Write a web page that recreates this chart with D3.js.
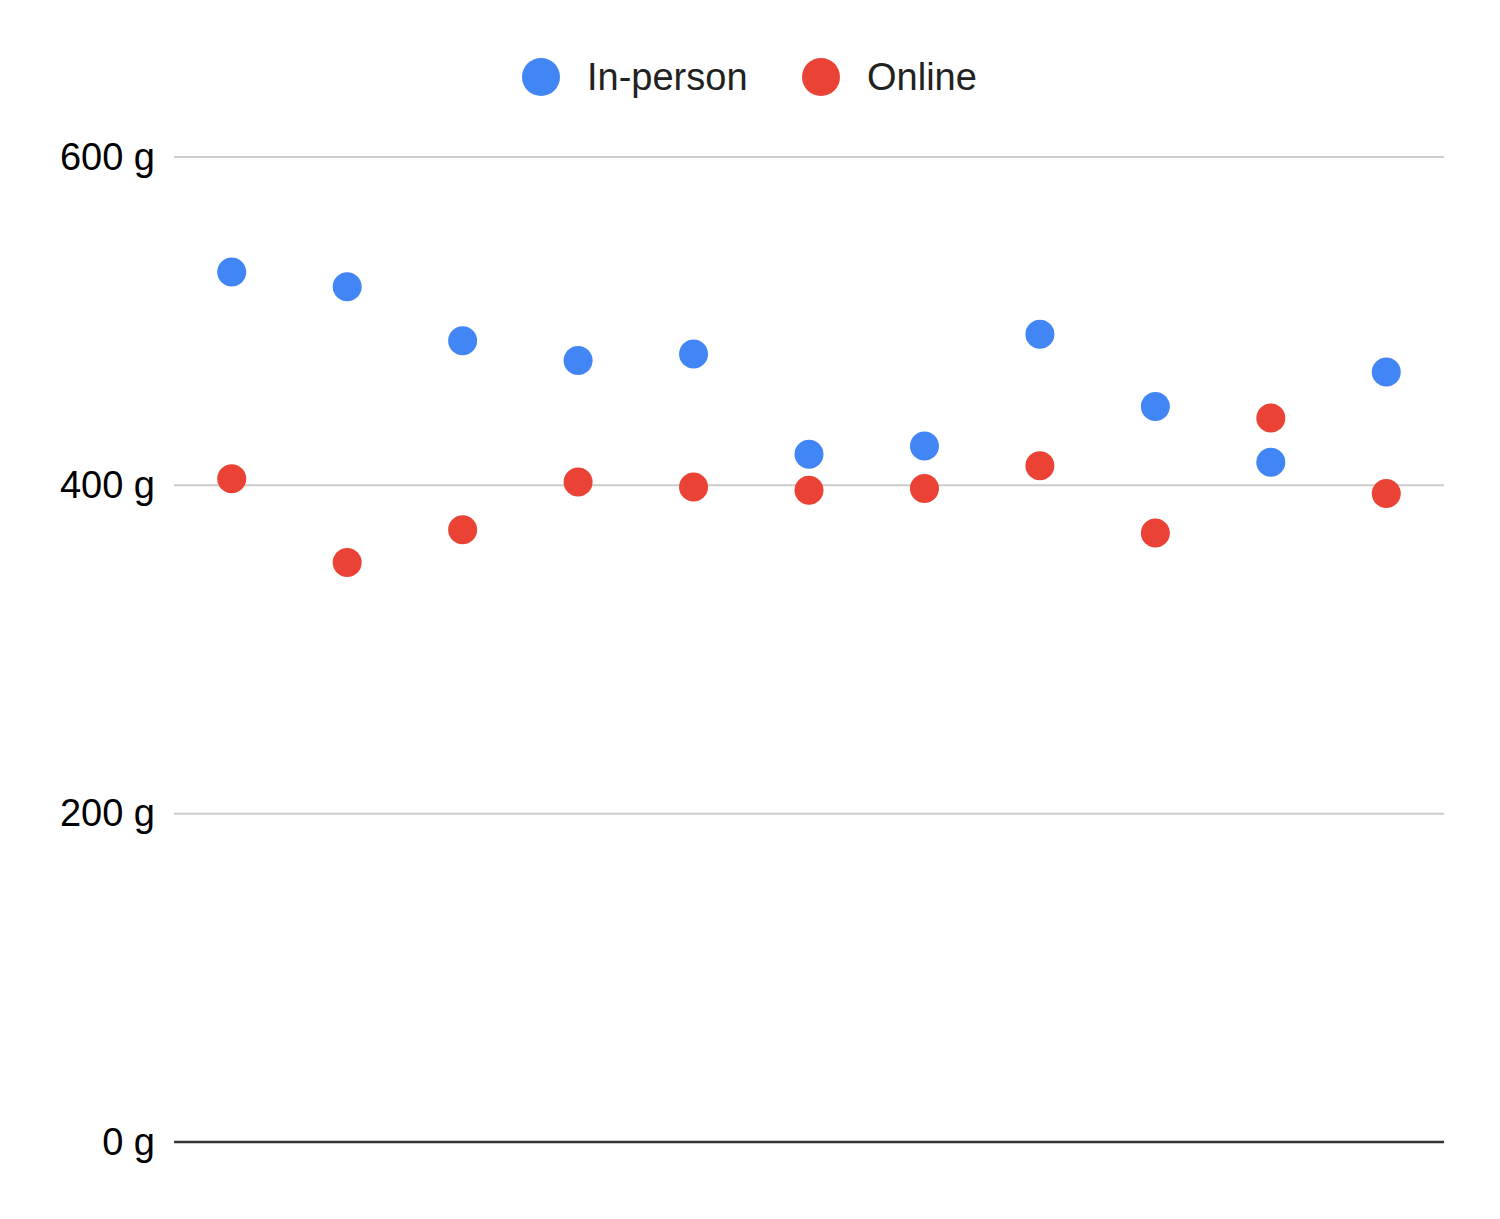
<!DOCTYPE html>
<html>
<head>
<meta charset="utf-8">
<script src="https://cdn.jsdelivr.net/npm/d3@7"></script>
<style>
  body { margin: 0; background: #fff; }
  svg { display: block; font-family: "Liberation Sans", Arial, sans-serif; }
</style>
</head>
<body>
<svg id="chart"></svg>
<script>
// one point per category, no x labels in the original
const categories = ['1', '2', '3', '4', '5', '6', '7', '8', '9', '10', '11'];
const inPerson = [530, 521, 488, 476, 480, 419, 424, 492, 448, 414, 469];
const online = [404, 353, 373, 402, 399, 397, 398, 412, 371, 441, 395];
const yTicks = [0, 200, 400, 600];
const seriesNames = ['In-person', 'Online'];
const seriesColors = ['#4285f4', '#ea4335'];

const width = 1500, height = 1219;
const margin = { top: 157, right: 56, bottom: 77, left: 174 };

const svg = d3.select('#chart').attr('width', width).attr('height', height);

const x = d3.scaleBand()
  .domain(categories)
  .range([margin.left, width - margin.right]);

const y = d3.scaleLinear()
  .domain([0, 600])
  .range([height - margin.bottom, margin.top]);

// gridlines + y labels
const yAxis = svg.append('g')
  .attr('transform', `translate(${margin.left},0)`)
  .call(d3.axisLeft(y).tickValues(yTicks).tickSize(0).tickPadding(19).tickFormat(d => `${d} g`));
yAxis.select('.domain').remove();
yAxis.selectAll('text')
  .attr('font-size', 38)
  .attr('fill', '#000')
  .attr('font-family', '"Liberation Sans", Arial, sans-serif');

svg.append('g')
  .selectAll('line')
  .data(yTicks)
  .enter()
  .append('line')
  .attr('x1', margin.left)
  .attr('x2', width - margin.right)
  .attr('y1', d => y(d))
  .attr('y2', d => y(d))
  .attr('stroke', d => d === 0 ? '#333' : '#ccc')
  .attr('stroke-width', d => d === 0 ? 2.5 : 2);

const series = [inPerson, online];
series.forEach((vals, s) => {
  svg.append('g')
    .selectAll('circle')
    .data(vals)
    .enter()
    .append('circle')
    .attr('cx', (d, i) => x(categories[i]) + x.bandwidth() / 2)
    .attr('cy', d => y(d))
    .attr('r', 14.5)
    .attr('fill', seriesColors[s]);
});

// legend
const legend = svg.append('g').attr('transform', 'translate(541,77)');
const legendX = [0, 280];
seriesNames.forEach((name, i) => {
  const g = legend.append('g').attr('transform', `translate(${legendX[i]},0)`);
  g.append('circle').attr('r', 19).attr('fill', seriesColors[i]);
  g.append('text')
    .attr('x', 46)
    .attr('dy', '0.35em')
    .attr('font-size', 38)
    .attr('fill', '#222')
    .text(name);
});
</script>
</body>
</html>
